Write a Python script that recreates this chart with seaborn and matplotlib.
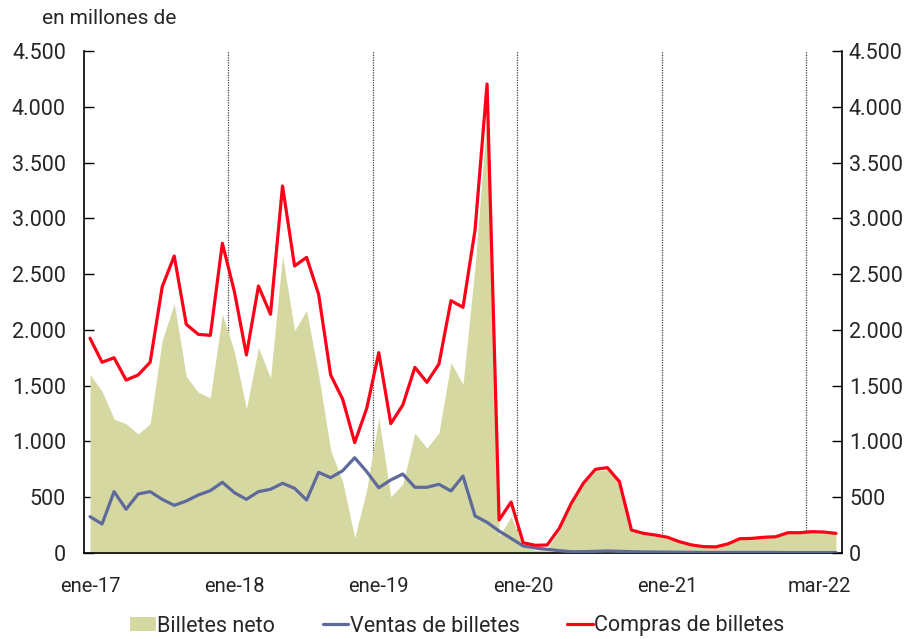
import numpy as np
import pandas as pd
import matplotlib
matplotlib.use("Agg")
import matplotlib.pyplot as plt
import matplotlib.transforms as mtransforms
from matplotlib.patches import Patch
from matplotlib.lines import Line2D
import seaborn as sns

# ---- data (en millones de) ----
compras = [1925, 1710, 1750, 1550, 1596, 1710, 2387, 2662, 2050, 1960, 1951, 2776,
           2343, 1775, 2393, 2140, 3290, 2573, 2650, 2319, 1596, 1378, 990, 1297,
           1796, 1160, 1327, 1664, 1530, 1694, 2262, 2202, 2895, 4204, 296, 457,
           92, 69, 72, 221, 445, 625, 750, 765, 640, 206, 176, 161,
           141, 101, 72, 57, 55, 81, 128, 131, 141, 146, 182, 182,
           191, 188, 176]
ventas = [326, 260, 550, 392, 529, 550, 481, 427, 466, 520, 559, 634,
          541, 481, 550, 571, 625, 580, 475, 723, 675, 738, 854, 729,
          585, 655, 708, 589, 589, 616, 556, 690, 332, 275, 197, 131,
          63, 45, 33, 21, 12, 12, 15, 18, 15, 12, 10, 9,
          8, 7, 6, 5, 5, 5, 5, 5, 5, 5, 4, 4,
          4, 4, 4]
neto = [1599, 1450, 1200, 1158, 1067, 1160, 1906, 2235, 1584, 1440, 1392, 2142,
        1802, 1294, 1843, 1569, 2665, 1993, 2175, 1596, 921, 640, 136, 568,
        1211, 505, 619, 1075, 941, 1078, 1706, 1512, 2563, 3929, 150, 326,
        60, 24, 39, 200, 433, 613, 735, 747, 625, 194, 166, 152,
        133, 94, 66, 52, 50, 76, 123, 126, 136, 141, 178, 178,
        187, 184, 172]
x_tick_pos = [0, 12, 24, 36, 48, 62]
x_tick_labels = ["ene-17", "ene-18", "ene-19", "ene-20", "ene-21", "mar-22"]
year_breaks = [11.5, 23.5, 35.5, 47.5, 59.5]
y_ticks = [0, 500, 1000, 1500, 2000, 2500, 3000, 3500, 4000, 4500]

df = pd.DataFrame({"t": np.arange(len(compras)), "compras": compras,
                   "ventas": ventas, "neto": neto})

sns.set_theme(style="white")
plt.rcParams["font.family"] = ["Roboto", "DejaVu Sans"]

C_FILL = "#D6D8A1"
C_BLUE = "#5F6A9C"
C_RED = "#FF0019"

fig = plt.figure(figsize=(9.2, 6.39), dpi=100)
ax = fig.add_axes([84/920, 1-553/639, (842-84)/920, (553-51)/639])

for xb in year_breaks:
    ax.axvline(xb, color="#444444", lw=0.9, ls=(0, (1, 1)), zorder=1)

ax.fill_between(df["t"], 0, df["neto"], color=C_FILL, lw=0, zorder=2)
sns.lineplot(data=df, x="t", y="ventas", color=C_BLUE, lw=2.3, ax=ax, zorder=3)
sns.lineplot(data=df, x="t", y="compras", color=C_RED, lw=2.3, ax=ax, zorder=4)

ax.set_xlim(-0.5, len(compras) - 0.5)
ax.set_ylim(0, 4500)
ax.set_xlabel("")
ax.set_ylabel("")
ax.set_yticks(y_ticks)
ax.set_yticklabels([f"{v:,}".replace(",", ".") for v in y_ticks])
ax.set_xticks(x_tick_pos)
ax.set_xticklabels(x_tick_labels)
ax.tick_params(axis="y", direction="in", length=7, width=1, color="black",
               labelsize=15.5, pad=13, left=True)
ax.tick_params(axis="x", length=0, labelsize=14.5, pad=17)
for s in ["left", "bottom", "right"]:
    ax.spines[s].set_visible(True)
    ax.spines[s].set_color("black")
    ax.spines[s].set_linewidth(1.2)
ax.spines["top"].set_visible(False)

# shift last label left
lbl = ax.get_xticklabels()[-1]
lbl.set_transform(lbl.get_transform() + mtransforms.ScaledTranslation(-17/100, 0, fig.dpi_scale_trans))

ax2 = ax.twinx()
ax2.set_ylim(0, 4500)
ax2.set_yticks(y_ticks)
ax2.set_yticklabels([f"{v:,}".replace(",", ".") for v in y_ticks])
ax2.tick_params(axis="y", direction="in", length=7, width=1, color="black",
                labelsize=15.5, pad=5, right=True)
ax2.grid(False)
for s in ax2.spines.values():
    s.set_visible(False)
ax.grid(False)

fig.text(42/920, 1-18/639, "en millones de", fontsize=15, va="center", ha="left")

handles = [Patch(facecolor=C_FILL, edgecolor="none"),
           Line2D([0], [0], color=C_BLUE, lw=2.3),
           Line2D([0], [0], color=C_RED, lw=2.3)]
fig.legend(handles, ["Billetes neto", "Ventas de billetes", "Compras de billetes"],
           loc="center", bbox_to_anchor=(0.497, 1-626/639), ncol=3, frameon=False,
           fontsize=15.5, handlelength=1.2, handleheight=0.6, handletextpad=0.06,
           columnspacing=2.2)

fig.savefig("out.png", dpi=100)
